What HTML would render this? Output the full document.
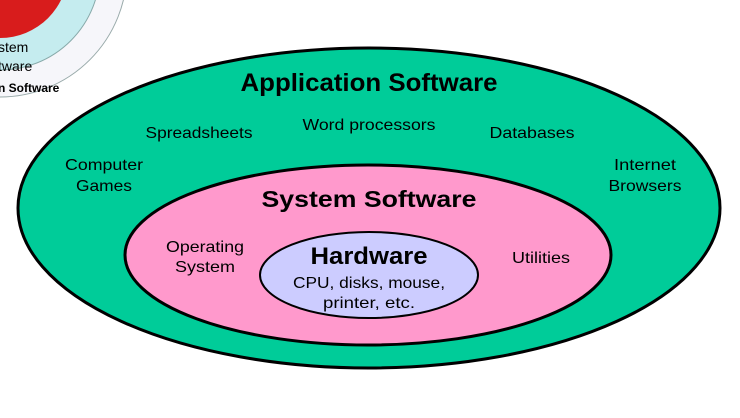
<!DOCTYPE html>
<html><head><style>
body{margin:0;background:#fff;}
svg{display:block;}
text{font-family:"Liberation Sans",sans-serif;fill:#000;}
</style></head><body>
<svg width="740" height="418" viewBox="0 0 740 418" xmlns="http://www.w3.org/2000/svg">
<circle cx="0" cy="-30" r="127" fill="#f6f6fa" stroke="#9aa" stroke-width="1"/>
<circle cx="0" cy="-30" r="100" fill="#c5ecef" stroke="#8aa" stroke-width="1"/>
<circle cx="0" cy="-30" r="68" fill="#d81c1c"/>
<text x="-2" y="52" font-size="14">stem</text>
<text x="-2" y="71" font-size="14">tware</text>
<text x="-2" y="92" font-size="12" font-weight="bold">n Software</text>
<ellipse cx="369" cy="208" rx="351" ry="160" fill="#00cc99" stroke="#000" stroke-width="3"/>
<ellipse cx="368" cy="255" rx="243" ry="90" fill="#ff99cc" stroke="#000" stroke-width="3"/>
<ellipse cx="369" cy="275" rx="109" ry="43" fill="#ccccff" stroke="#000" stroke-width="2"/>
<text x="369" y="91" font-size="25" font-weight="bold" text-anchor="middle" textLength="257" lengthAdjust="spacingAndGlyphs">Application Software</text>
<text x="199" y="138" font-size="16" text-anchor="middle" textLength="107" lengthAdjust="spacingAndGlyphs">Spreadsheets</text>
<text x="369" y="130" font-size="16" text-anchor="middle" textLength="133" lengthAdjust="spacingAndGlyphs">Word processors</text>
<text x="532" y="138" font-size="16" text-anchor="middle" textLength="85" lengthAdjust="spacingAndGlyphs">Databases</text>
<text x="104" y="170" font-size="16" text-anchor="middle" textLength="78" lengthAdjust="spacingAndGlyphs">Computer</text>
<text x="104" y="191" font-size="16" text-anchor="middle" textLength="56" lengthAdjust="spacingAndGlyphs">Games</text>
<text x="645" y="170" font-size="16" text-anchor="middle" textLength="62" lengthAdjust="spacingAndGlyphs">Internet</text>
<text x="645" y="191" font-size="16" text-anchor="middle" textLength="73" lengthAdjust="spacingAndGlyphs">Browsers</text>
<text x="369" y="207" font-size="23" font-weight="bold" text-anchor="middle" textLength="215" lengthAdjust="spacingAndGlyphs">System Software</text>
<text x="205" y="252" font-size="16" text-anchor="middle" textLength="78" lengthAdjust="spacingAndGlyphs">Operating</text>
<text x="205" y="272" font-size="16" text-anchor="middle" textLength="60" lengthAdjust="spacingAndGlyphs">System</text>
<text x="541" y="263" font-size="16" text-anchor="middle" textLength="58" lengthAdjust="spacingAndGlyphs">Utilities</text>
<text x="369" y="264" font-size="24" font-weight="bold" text-anchor="middle" textLength="117" lengthAdjust="spacingAndGlyphs">Hardware</text>
<text x="369" y="288" font-size="16" text-anchor="middle" textLength="152" lengthAdjust="spacingAndGlyphs">CPU, disks, mouse,</text>
<text x="369" y="308" font-size="16" text-anchor="middle" textLength="92" lengthAdjust="spacingAndGlyphs">printer, etc.</text>
</svg>
</body></html>
